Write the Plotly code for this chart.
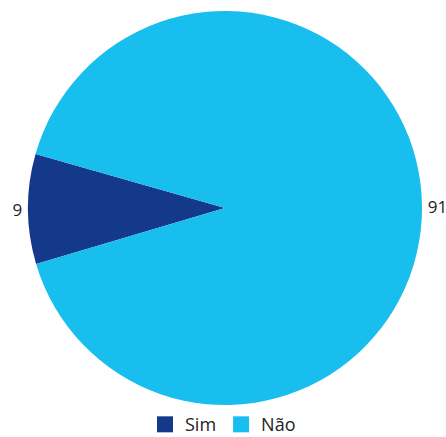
import plotly.graph_objects as go

labels = ["Sim", "Não"]
values = [9, 91]
colors = ["#14388A", "#18BEEE"]

fig = go.Figure()

fig.add_trace(go.Pie(
    labels=labels,
    values=values,
    marker=dict(colors=colors, line=dict(width=0)),
    sort=False,
    direction="clockwise",
    rotation=253.5,
    textinfo="value",
    textposition="outside",
    textfont=dict(size=17, color="#222222", family="Open Sans"),
    automargin=False,
    showlegend=False,
    domain=dict(x=[28 / 446, 422 / 446], y=[31 / 437, 427 / 437]),
))

# Legend entries with larger square swatches
for lab, col in zip(labels, colors):
    fig.add_trace(go.Scatter(
        x=[None], y=[None], mode="markers", name=lab,
        marker=dict(symbol="square", size=16, color=col),
        showlegend=True,
    ))

fig.update_layout(
    width=446,
    height=437,
    margin=dict(l=0, r=0, t=0, b=0, autoexpand=False),
    paper_bgcolor="white",
    plot_bgcolor="white",
    font=dict(family="Open Sans", size=17, color="#222222"),
    xaxis=dict(visible=False),
    yaxis=dict(visible=False),
    legend=dict(
        orientation="h",
        x=0.5,
        xanchor="center",
        y=-0.014,
        yanchor="bottom",
        font=dict(size=18),
        itemwidth=30,
        tracegroupgap=0,
    ),
)

fig.write_html("out.html")
